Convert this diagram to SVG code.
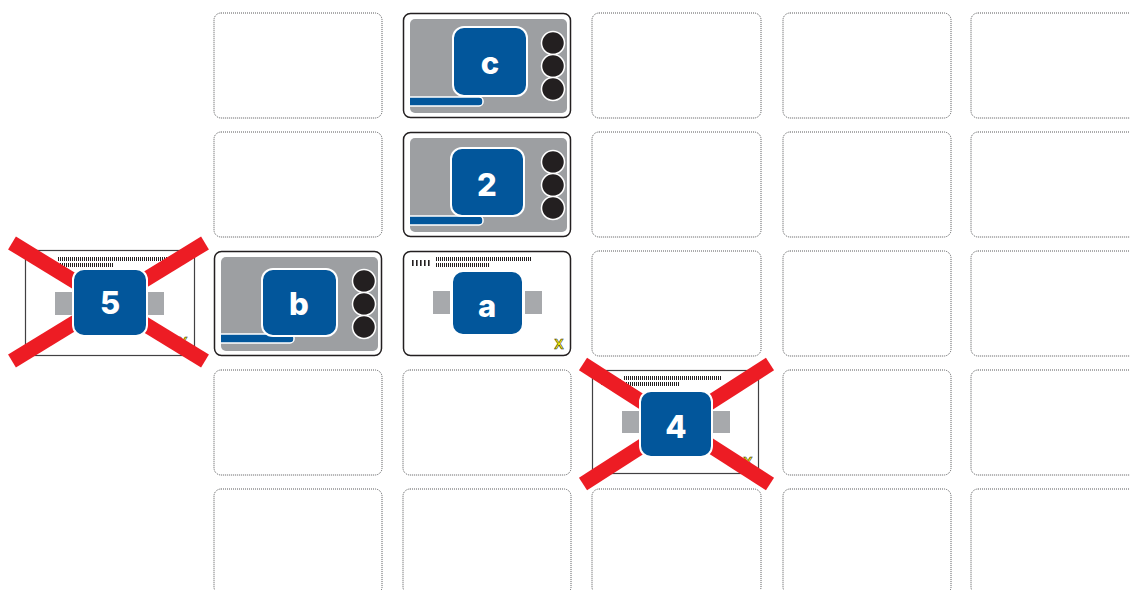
<svg xmlns="http://www.w3.org/2000/svg" width="1130" height="590" viewBox="0 0 1130 590">
<defs>
<pattern id="bc" width="2" height="10" patternUnits="userSpaceOnUse"><rect x="0" y="0" width="1" height="10" fill="#231f20"/></pattern>
<pattern id="sm" width="4" height="10" patternUnits="userSpaceOnUse"><rect x="0" y="0" width="1.6" height="10" fill="#231f20"/></pattern>
</defs>
<style>
.cell{fill:#fff;stroke:#58595b;stroke-width:1;stroke-dasharray:1 1}
.card{fill:#fff;stroke:#231f20;stroke-width:1.5}
.flat{fill:#fff;stroke:#414042;stroke-width:1.2}
.grey{fill:#9d9fa2}
.sq{fill:#02569b;stroke:#fff;stroke-width:2}
.bar{fill:#02569b}
.barline{fill:none;stroke:#fff;stroke-width:1.5}
.dot{fill:#231f20;stroke:#fff;stroke-width:1.5}
.tab{fill:#a7a9ac}
.lbl{font-family:Inter,"Noto Sans",sans-serif;font-weight:800;font-size:31px;fill:#fff;text-anchor:middle}
.yx{font-family:"Liberation Sans",Arial,sans-serif;font-weight:700;font-size:14px;fill:#fff200;stroke:#231f20;stroke-width:0.5;text-anchor:middle}
.cross{stroke:#ed1c24;stroke-width:15;stroke-linecap:butt}
</style>
<g id="grid">
<rect class="cell" x="214" y="13" width="168" height="105" rx="7"/>
<rect class="cell" x="592" y="13" width="169" height="105" rx="7"/>
<rect class="cell" x="783" y="13" width="168" height="105" rx="7"/>
<rect class="cell" x="971" y="13" width="168" height="105" rx="7"/>
<rect class="cell" x="214" y="132" width="168" height="105" rx="7"/>
<rect class="cell" x="592" y="132" width="169" height="105" rx="7"/>
<rect class="cell" x="783" y="132" width="168" height="105" rx="7"/>
<rect class="cell" x="971" y="132" width="168" height="105" rx="7"/>
<rect class="cell" x="592" y="251" width="169" height="105" rx="7"/>
<rect class="cell" x="783" y="251" width="168" height="105" rx="7"/>
<rect class="cell" x="971" y="251" width="168" height="105" rx="7"/>
<rect class="cell" x="214" y="370" width="168" height="105" rx="7"/>
<rect class="cell" x="403" y="370" width="168" height="105" rx="7"/>
<rect class="cell" x="783" y="370" width="168" height="105" rx="7"/>
<rect class="cell" x="971" y="370" width="168" height="105" rx="7"/>
<rect class="cell" x="214" y="489" width="168" height="105" rx="7"/>
<rect class="cell" x="403" y="489" width="168" height="105" rx="7"/>
<rect class="cell" x="592" y="489" width="169" height="105" rx="7"/>
<rect class="cell" x="783" y="489" width="168" height="105" rx="7"/>
<rect class="cell" x="971" y="489" width="168" height="105" rx="7"/>
</g>
<g id="node-c">
<rect class="card" x="403.5" y="13.5" width="167" height="104" rx="7"/>
<rect class="grey" x="410" y="19" width="157" height="94" rx="5"/>
<path class="bar" d="M410,97 H479 a4,4 0 0 1 4,4 v1 a4,4 0 0 1 -4,4 H410 Z"/>
<path class="barline" d="M410,97 H479 a4,4 0 0 1 4,4 v1 a4,4 0 0 1 -4,4 H410"/>
<rect class="sq" x="453" y="27" width="74" height="69" rx="11"/>
<circle class="dot" cx="553" cy="43" r="11.5"/>
<circle class="dot" cx="553" cy="66" r="11.5"/>
<circle class="dot" cx="553" cy="89" r="11.5"/>
<text class="lbl" x="490" y="74">c</text>
</g>
<g id="node-2">
<rect class="card" x="403.5" y="132.5" width="167" height="104" rx="7"/>
<rect class="grey" x="410" y="138" width="157" height="94" rx="5"/>
<path class="bar" d="M410,216 H479 a4,4 0 0 1 4,4 v1 a4,4 0 0 1 -4,4 H410 Z"/>
<path class="barline" d="M410,216 H479 a4,4 0 0 1 4,4 v1 a4,4 0 0 1 -4,4 H410"/>
<rect class="sq" x="451" y="148" width="73" height="68" rx="11"/>
<circle class="dot" cx="553" cy="162" r="11.5"/>
<circle class="dot" cx="553" cy="185" r="11.5"/>
<circle class="dot" cx="553" cy="208" r="11.5"/>
<text class="lbl" x="487" y="196">2</text>
</g>
<g id="node-b">
<rect class="card" x="214.5" y="251.5" width="167" height="104" rx="7"/>
<rect class="grey" x="221" y="257" width="157" height="94" rx="5"/>
<path class="bar" d="M221,334 H290 a4,4 0 0 1 4,4 v1 a4,4 0 0 1 -4,4 H221 Z"/>
<path class="barline" d="M221,334 H290 a4,4 0 0 1 4,4 v1 a4,4 0 0 1 -4,4 H221"/>
<rect class="sq" x="262" y="269" width="75" height="67" rx="11"/>
<circle class="dot" cx="364" cy="281" r="11.5"/>
<circle class="dot" cx="364" cy="304" r="11.5"/>
<circle class="dot" cx="364" cy="327" r="11.5"/>
<text class="lbl" x="299" y="315">b</text>
</g>
<g id="node-a">
<rect class="card" x="403.5" y="251.5" width="167" height="104" rx="7"/>
<rect x="411" y="260" width="20" height="6" fill="url(#sm)"/>
<rect x="435" y="257" width="97" height="4" fill="url(#bc)"/>
<rect x="435" y="263" width="55" height="4" fill="url(#bc)"/>
<rect class="tab" x="433" y="291" width="17" height="23"/>
<rect class="tab" x="525" y="291" width="17" height="23"/>
<rect class="sq" x="452" y="271" width="71" height="64" rx="11"/>
<text class="lbl" x="487" y="317">a</text>
<text class="yx" x="559" y="349">X</text>
</g>
<g id="node-5">
<rect class="flat" x="25.5" y="250.5" width="169" height="105"/>
<rect x="34" y="260" width="20" height="6" fill="url(#sm)"/>
<rect x="57" y="257" width="114" height="4" fill="url(#bc)"/>
<rect x="57" y="263" width="56" height="4" fill="url(#bc)"/>
<rect class="tab" x="55" y="292" width="18" height="23"/>
<rect class="tab" x="147" y="292" width="17" height="23"/>
<text class="yx" x="183" y="347">X</text>
<line class="cross" x1="12" y1="243" x2="205" y2="361"/>
<line class="cross" x1="205" y1="243" x2="12" y2="361"/>
<rect class="sq" x="73" y="269" width="74" height="67" rx="11"/>
<text class="lbl" x="110" y="314">5</text>
</g>
<g id="node-4">
<rect class="flat" x="592.5" y="370.5" width="166" height="103"/>
<rect x="601" y="379" width="20" height="6" fill="url(#sm)"/>
<rect x="623" y="376" width="99" height="4" fill="url(#bc)"/>
<rect x="623" y="382" width="57" height="4" fill="url(#bc)"/>
<rect class="tab" x="622" y="411" width="18" height="22"/>
<rect class="tab" x="712" y="411" width="18" height="22"/>
<text class="yx" x="748" y="467">X</text>
<line class="cross" x1="583" y1="364" x2="770" y2="484"/>
<line class="cross" x1="770" y1="364" x2="583" y2="484"/>
<rect class="sq" x="640" y="391" width="72" height="66" rx="11"/>
<text class="lbl" x="676" y="438">4</text>
</g>
</svg>
